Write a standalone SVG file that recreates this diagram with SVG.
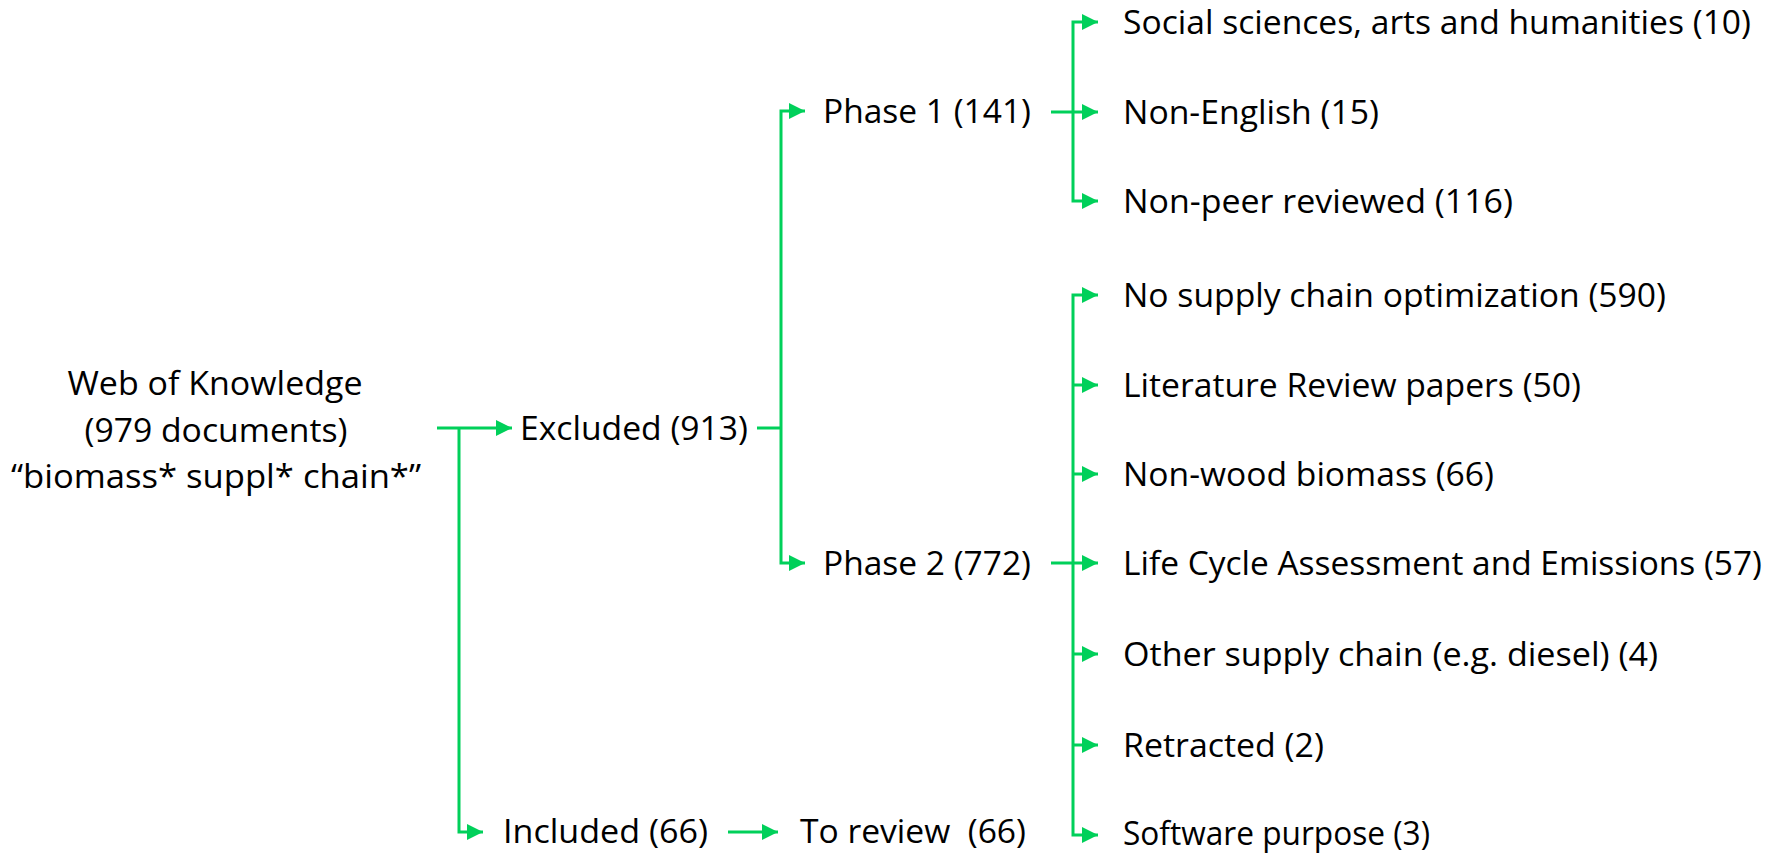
<svg xmlns="http://www.w3.org/2000/svg" width="1777" height="854" viewBox="0 0 1777 854">
<style>
.t{font-family:"Open Sans","Liberation Sans",sans-serif;font-size:33px;fill:#000}
.c{text-anchor:middle}
.ln{fill:none;stroke:#00D05A;stroke-width:3}
.ar{marker-end:url(#ah)}
</style>
<defs>
<marker id="ah" markerUnits="userSpaceOnUse" markerWidth="17" markerHeight="17" refX="16" refY="8" orient="auto"><path d="M0,0 L16,8 L0,16 z" fill="#00D05A"/></marker>
</defs>
<rect width="1777" height="854" fill="#fff"/>
<g id="connectors">
<path class="ln ar" d="M437,428 H512"/>
<path class="ln ar" d="M459,428 V832 H483"/>
<path class="ln ar" d="M728,832 H778"/>
<path class="ln" d="M757,428 H781"/>
<path class="ln ar" d="M781,428 V111 H805"/>
<path class="ln ar" d="M781,428 V563 H805"/>
<path class="ln ar" d="M1051,112 H1098"/>
<path class="ln ar" d="M1073,112 V22 H1098"/>
<path class="ln ar" d="M1073,112 V201 H1098"/>
<path class="ln ar" d="M1051,563 H1098"/>
<path class="ln ar" d="M1073,563 V295 H1098"/>
<path class="ln ar" d="M1073,563 V835 H1098"/>
<path class="ln ar" d="M1073,385 H1098"/>
<path class="ln ar" d="M1073,474 H1098"/>
<path class="ln ar" d="M1073,654 H1098"/>
<path class="ln ar" d="M1073,745 H1098"/>
</g>
<g id="source">
<text class="t c" x="215" y="395" textLength="295" lengthAdjust="spacingAndGlyphs">Web of Knowledge</text>
<text class="t c" x="216" y="442" textLength="263" lengthAdjust="spacingAndGlyphs">(979 documents)</text>
<text class="t c" x="216" y="488" textLength="410" lengthAdjust="spacingAndGlyphs">“biomass* suppl* chain*”</text>
</g>
<g id="excluded"><text class="t" x="520" y="440" textLength="228" lengthAdjust="spacingAndGlyphs">Excluded (913)</text></g>
<g id="included"><text class="t" x="503" y="843" textLength="205" lengthAdjust="spacingAndGlyphs">Included (66)</text></g>
<g id="toreview"><text class="t" x="800" y="843" textLength="226" lengthAdjust="spacingAndGlyphs" style="white-space:pre" xml:space="preserve">To review  (66)</text></g>
<g id="phase1"><text class="t" x="823" y="123" textLength="208" lengthAdjust="spacingAndGlyphs">Phase 1 (141)</text></g>
<g id="phase2"><text class="t" x="823" y="575" textLength="208" lengthAdjust="spacingAndGlyphs">Phase 2 (772)</text></g>
<g id="social"><text class="t" x="1123" y="34" textLength="628" lengthAdjust="spacingAndGlyphs">Social sciences, arts and humanities (10)</text></g>
<g id="nonenglish"><text class="t" x="1123" y="124" textLength="256" lengthAdjust="spacingAndGlyphs">Non-English (15)</text></g>
<g id="nonpeer"><text class="t" x="1123" y="213" textLength="390" lengthAdjust="spacingAndGlyphs">Non-peer reviewed (116)</text></g>
<g id="nosupply"><text class="t" x="1123" y="307" textLength="543" lengthAdjust="spacingAndGlyphs">No supply chain optimization (590)</text></g>
<g id="litreview"><text class="t" x="1123" y="397" textLength="458" lengthAdjust="spacingAndGlyphs">Literature Review papers (50)</text></g>
<g id="nonwood"><text class="t" x="1123" y="486" textLength="371" lengthAdjust="spacingAndGlyphs">Non-wood biomass (66)</text></g>
<g id="lca"><text class="t" x="1123" y="575" textLength="639" lengthAdjust="spacingAndGlyphs">Life Cycle Assessment and Emissions (57)</text></g>
<g id="othersupply"><text class="t" x="1123" y="666" textLength="535" lengthAdjust="spacingAndGlyphs">Other supply chain (e.g. diesel) (4)</text></g>
<g id="retracted"><text class="t" x="1123" y="757" textLength="201" lengthAdjust="spacingAndGlyphs">Retracted (2)</text></g>
<g id="software"><text class="t" x="1123" y="845" textLength="307" lengthAdjust="spacingAndGlyphs">Software purpose (3)</text></g>
</svg>
